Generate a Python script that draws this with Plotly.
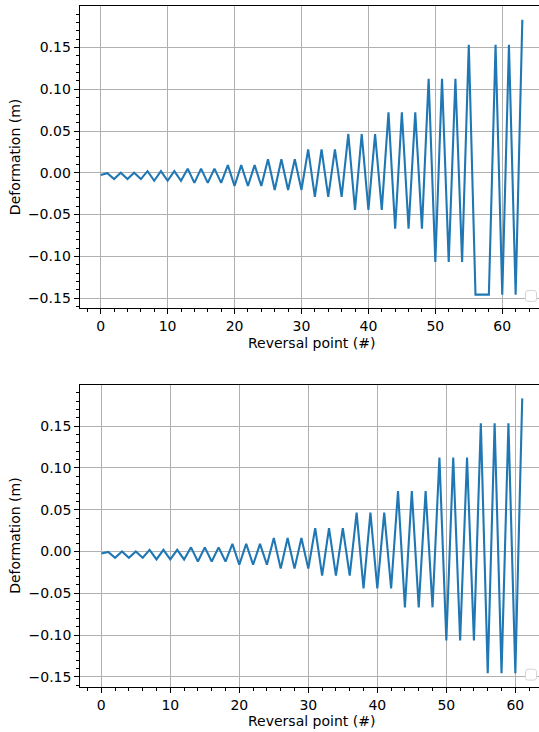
import plotly.graph_objects as go

# Reversal-point deformation histories (m)
rev_top = list(range(64))
def_top = [
    -0.0025, -0.0005,
    -0.0075, 0.0, -0.0075, 0.0, -0.0075,
    0.002, -0.0095, 0.002, -0.0095, 0.002, -0.0095,
    0.005, -0.012, 0.005, -0.012, 0.005, -0.012,
    0.0092, -0.0158, 0.0092, -0.0158, 0.0092, -0.0158,
    0.0163, -0.0205, 0.0163, -0.0205, 0.0163, -0.0205,
    0.028, -0.0288, 0.028, -0.0288, 0.028, -0.0288,
    0.0465, -0.0443, 0.0465, -0.0443, 0.0465, -0.0443,
    0.0725, -0.0668, 0.0725, -0.0668, 0.0725, -0.0668,
    0.1126, -0.1066, 0.1126, -0.1066, 0.1126, -0.1066,
    0.1534, -0.1458, -0.1458, -0.1458, 0.1534, -0.1458, 0.1534, -0.1458,
    0.1833,
]

rev_bot = list(range(62))
def_bot = [
    -0.0025, -0.0005,
    -0.0075, 0.0, -0.0075, 0.0, -0.0075,
    0.002, -0.0095, 0.002, -0.0095, 0.002, -0.0095,
    0.005, -0.012, 0.005, -0.012, 0.005, -0.012,
    0.0092, -0.0158, 0.0092, -0.0158, 0.0092, -0.0158,
    0.0163, -0.0205, 0.0163, -0.0205, 0.0163, -0.0205,
    0.028, -0.0288, 0.028, -0.0288, 0.028, -0.0288,
    0.0465, -0.0443, 0.0465, -0.0443, 0.0465, -0.0443,
    0.0725, -0.0668, 0.0725, -0.0668, 0.0725, -0.0668,
    0.1126, -0.1066, 0.1126, -0.1066, 0.1126, -0.1066,
    0.1534, -0.1458, 0.1534, -0.1458, 0.1534, -0.1458,
    0.1833,
]

x_title = "Reversal point (#)"
y_title = "Deformation (m)"

W, H = 539, 732
FONT = dict(family="DejaVu Sans", size=14, color="black")
BLUE = "#1f77b4"
GRID = "#b0b0b0"


def px(x):
    return x / W


def py(y):
    return 1 - y / H


def x_axis(domain, rng, anchor):
    return dict(
        domain=domain, range=rng, anchor=anchor,
        showline=True, linecolor="black", linewidth=1, mirror=True,
        ticks="outside", ticklen=5, tickwidth=1, tickcolor="black",
        tick0=0, dtick=10, tickfont=FONT,
        showgrid=True, gridcolor=GRID, gridwidth=1, zeroline=False,
        minor=dict(ticks="outside", ticklen=3, tickwidth=0.8,
                   tickcolor="black", tick0=0, dtick=2, showgrid=False),
        automargin=False,
    )


def y_axis(domain, rng, anchor):
    return dict(
        domain=domain, range=rng, anchor=anchor,
        showline=True, linecolor="black", linewidth=1, mirror=False,
        ticks="outside", ticklen=5, tickwidth=1, tickcolor="black",
        tick0=0, dtick=0.05, tickformat=".2f", tickfont=FONT,
        showgrid=True, gridcolor=GRID, gridwidth=1, zeroline=False,
        minor=dict(ticks="outside", ticklen=3, tickwidth=0.8,
                   tickcolor="black", tick0=0, dtick=0.01, showgrid=False),
        automargin=False,
    )


def rounded_box(x0, y0, x1, y1, r):
    """Rounded rectangle path in paper coordinates from pixel corners."""
    rx, ry = r / W, r / H
    a, b, c, d = px(x0), py(y1), px(x1), py(y0)  # left, bottom, right, top
    return (
        f"M {a + rx},{b} L {c - rx},{b} Q {c},{b} {c},{b + ry} "
        f"L {c},{d - ry} Q {c},{d} {c - rx},{d} "
        f"L {a + rx},{d} Q {a},{d} {a},{d - ry} "
        f"L {a},{b + ry} Q {a},{b} {a + rx},{b} Z"
    )


fig = go.Figure()
fig.add_trace(go.Scatter(x=rev_top, y=def_top, mode="lines",
                         line=dict(color=BLUE, width=2.1),
                         xaxis="x", yaxis="y", showlegend=False))
fig.add_trace(go.Scatter(x=rev_bot, y=def_bot, mode="lines",
                         line=dict(color=BLUE, width=2.1),
                         xaxis="x2", yaxis="y2", showlegend=False))

y_rng = [-0.1623, 0.1998]
top_y = (5.9, 308.4)
bot_y = (384.6, 687.1)

fig.update_layout(
    width=W, height=H,
    margin=dict(l=0, r=0, t=0, b=0),
    paper_bgcolor="white", plot_bgcolor="white",
    font=FONT,
    showlegend=False,
    xaxis=x_axis([px(79.6), 1.0], [-3.15, 65.49], "y"),
    yaxis=y_axis([py(top_y[1]), py(top_y[0])], y_rng, "x"),
    xaxis2=x_axis([px(80.25), 1.0], [-3.05, 63.43], "y2"),
    yaxis2=y_axis([py(bot_y[1]), py(bot_y[0])], y_rng, "x2"),
)

# Axis titles
for (yc, xt_y) in [((top_y[0] + top_y[1]) / 2, 343), ((bot_y[0] + bot_y[1]) / 2, 721)]:
    fig.add_annotation(text=y_title, x=px(15), y=py(yc), xref="paper", yref="paper",
                       textangle=-90, showarrow=False, font=FONT,
                       xanchor="center", yanchor="middle")
    fig.add_annotation(text=x_title, x=px(311.5), y=py(xt_y), xref="paper", yref="paper",
                       showarrow=False, font=FONT, xanchor="center", yanchor="middle")

# Empty legend frames in the lower-right corner of each panel
for (y0, y1) in [(290.5, 301.4), (669.2, 680.1)]:
    fig.add_shape(type="path", path=rounded_box(525.5, y0, 536.5, y1, 2.5),
                  xref="paper", yref="paper",
                  line=dict(color="#d6d6d6", width=1), fillcolor="white")

fig.write_html("out.html")
